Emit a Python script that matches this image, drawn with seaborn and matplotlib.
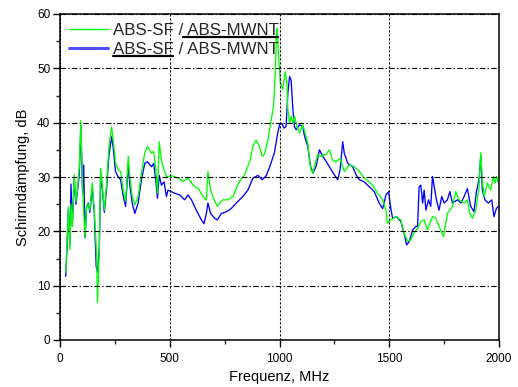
import numpy as np
import pandas as pd
import matplotlib
matplotlib.use("Agg")
import matplotlib.pyplot as plt
import seaborn as sns
from matplotlib.lines import Line2D
from matplotlib.ticker import MultipleLocator

# ---------------- data ----------------
freq_green = [27, 32, 38, 45, 50, 56, 65, 73, 80, 88,
              95, 103, 114, 121, 129, 136, 147, 156, 167, 171,
              179, 185, 192, 202, 212, 223, 235, 242, 253, 265,
              276, 288, 299, 311, 318, 329, 341, 356, 371, 386,
              398, 417, 427, 436, 444, 452, 462, 474, 485, 492,
              510, 538, 561, 583, 606, 629, 652, 667, 674, 686,
              705, 717, 727, 742, 765, 788, 803, 818, 841, 864,
              879, 894, 909, 921, 932, 947, 962, 973, 980, 986,
              989, 995, 1004, 1015, 1026, 1033, 1038, 1046, 1053, 1061,
              1068, 1080, 1091, 1106, 1117, 1129, 1136, 1144, 1152, 1159,
              1174, 1189, 1205, 1212, 1227, 1242, 1258, 1276, 1295, 1318,
              1341, 1364, 1386, 1409, 1424, 1447, 1470, 1485, 1492, 1508,
              1530, 1553, 1568, 1583, 1598, 1614, 1629, 1644, 1659, 1674,
              1697, 1712, 1727, 1747, 1765, 1788, 1803, 1818, 1841, 1856,
              1867, 1879, 1894, 1909, 1917, 1924, 1932, 1947, 1962, 1974,
              1982, 1989, 1997]
att_green = [12.5, 18, 24.5, 16.7, 25, 20.9, 30.4, 25.5, 28, 31.9,
             40.4, 27.6, 18.8, 24.5, 25, 23.9, 28.9, 24, 15.3, 6.9,
             16.6, 31.6, 28.9, 23.9, 28.6, 35.6, 39.2, 37, 32.6, 31.3,
             31, 27.6, 25.5, 33.8, 30.1, 26.4, 24.9, 26.4, 30.7, 34.4,
             35.6, 34.4, 34.7, 31.6, 27, 36.5, 33.1, 31.3, 30.1, 30.1,
             30.2, 29.8, 29.2, 29.8, 28.5, 27.9, 26.4, 25.8, 31.0, 27.6,
             25.5, 24.6, 25.2, 25.8, 25.8, 26.4, 27.9, 29.2, 30.4, 32.8,
             35.6, 36.8, 35.6, 33.8, 34.2, 36.8, 40.5, 43.0, 48.5, 56.0,
             57.3, 52.8, 47.3, 46.1, 49.4, 47.6, 42.4, 39.9, 41.2, 39.9,
             41.2, 39.3, 38.1, 39.6, 38.1, 36.2, 33.2, 31.3, 30.7, 32.0,
             34.1, 33.8, 34.1, 34.1, 35.0, 33.1, 32.8, 33.4, 31.0, 32.2,
             31.9, 31.0, 29.8, 29.1, 28.5, 27.0, 25.8, 23.9, 21.5, 22.1,
             22.7, 22.1, 19.6, 18.2, 18.4, 19.8, 20.5, 21.8, 22.1, 20.3,
             22.7, 22.4, 20.9, 19.0, 23.3, 24.6, 27.3, 25.8, 25.2, 25.8,
             23.3, 22.4, 23.9, 28.2, 34.5, 29.5, 26.4, 28.9, 27.6, 30.1,
             28.9, 30.1, 28.9]

freq_blue = [26, 32, 38, 45, 50, 56, 65, 73, 80, 88,
             95, 103, 108, 114, 121, 129, 136, 147, 156, 165,
             171, 179, 185, 192, 202, 212, 223, 235, 242, 253,
             265, 276, 288, 299, 311, 318, 329, 341, 356, 371,
             386, 398, 417, 427, 436, 444, 452, 462, 474, 485,
             492, 523, 545, 568, 583, 599, 621, 644, 656, 667,
             674, 686, 705, 717, 735, 758, 780, 803, 833, 856,
             879, 902, 921, 940, 955, 977, 992, 1000, 1011, 1020,
             1030, 1038, 1046, 1053, 1061, 1068, 1076, 1091, 1106, 1114,
             1129, 1141, 1152, 1167, 1182, 1197, 1212, 1227, 1250, 1265,
             1276, 1288, 1295, 1311, 1333, 1349, 1364, 1386, 1409, 1432,
             1454, 1470, 1485, 1497, 1505, 1515, 1533, 1553, 1568, 1579,
             1591, 1606, 1621, 1629, 1636, 1644, 1652, 1659, 1667, 1679,
             1689, 1697, 1705, 1715, 1727, 1739, 1750, 1765, 1776, 1788,
             1811, 1826, 1841, 1856, 1871, 1886, 1897, 1909, 1917, 1924,
             1936, 1951, 1967, 1977, 1988, 1997]
att_blue = [11.7, 17, 24, 17.5, 28.7, 21, 29.5, 25, 27.5, 30.5,
            39.5, 27, 32.2, 18.8, 24.5, 25.2, 23.5, 28, 23.5, 13.5,
            12.5, 17, 30, 28, 23.5, 27.8, 34, 37.4, 35.5, 31,
            30, 29.5, 26.5, 24.6, 32.5, 28.5, 25.2, 23.3, 25.2, 29.5,
            32.5, 32.8, 31.9, 32.5, 29.5, 26.1, 30.3, 28.5, 29.1, 26.4,
            27.6, 27.0, 26.7, 25.8, 26.7, 25.8, 23.9, 22.1, 21.4, 23.3,
            25.2, 23.3, 22.4, 22.1, 23.3, 23.6, 24.2, 25.2, 26.4, 27.6,
            29.8, 30.3, 29.5, 30.3, 31.8, 34.5, 38.1, 39.6, 39.9, 39.0,
            39.3, 45.5, 48.5, 47.8, 42.4, 39.3, 38.7, 39.6, 39.3, 37.5,
            35.6, 32.0, 30.7, 32.0, 35.0, 33.8, 32.9, 31.9, 30.4, 29.5,
            31.3, 36.5, 34.4, 32.5, 31.9, 30.4, 29.5, 29.1, 28.2, 27.3,
            25.2, 24.2, 26.7, 27.3, 24.8, 22.4, 22.7, 21.8, 19.6, 17.5,
            18.1, 20.2, 20.9, 20.9, 28.2, 28.5, 25.2, 27.6, 23.9, 25.8,
            24.6, 30.1, 28.2, 25.8, 23.9, 26.4, 25.2, 25.8, 27.3, 25.2,
            25.8, 25.2, 26.4, 27.9, 24.6, 23.6, 27.3, 29.5, 34.0, 27.6,
            25.8, 25.2, 25.8, 22.7, 24.2, 24.6]

label_text = "ABS-SF / ABS-MWNT"
x_ticks = [0, 500, 1000, 1500, 2000]
y_ticks = [0, 10, 20, 30, 40, 50, 60]
x_label = "Frequenz, MHz"
y_label = "Schirmdämpfung, dB"

# ---------------- style ----------------
sns.set_style("ticks")
plt.rcParams["font.family"] = ["Liberation Sans", "DejaVu Sans"]
plt.rcParams["axes.edgecolor"] = "black"
plt.rcParams["axes.linewidth"] = 1.1

fig = plt.figure(figsize=(5.18, 3.87), dpi=100)
ax = fig.add_axes([60 / 518, 1 - 340 / 387, 439 / 518, 326 / 387])

df_b = pd.DataFrame({"f": freq_blue, "a": att_blue})
df_g = pd.DataFrame({"f": freq_green, "a": att_green})
sns.lineplot(data=df_b, x="f", y="a", color="#0000ff", lw=0.95, ax=ax,
             estimator=None, sort=False, legend=False)
sns.lineplot(data=df_g, x="f", y="a", color="#00ff00", lw=0.95, ax=ax,
             estimator=None, sort=False, legend=False)

ax.set_xlim(0, 2000)
ax.set_ylim(0, 60)
ax.set_xticks(x_ticks)
ax.set_yticks(y_ticks)
ax.xaxis.set_minor_locator(MultipleLocator(250))
ax.yaxis.set_minor_locator(MultipleLocator(5))
ax.tick_params(which="major", direction="out", length=5, width=1.0,
               labelsize=8.5, colors="black", pad=2)
ax.tick_params(which="minor", direction="out", length=3, width=1.0)
ax.tick_params(axis="x", which="major", pad=4)
for s in ["top", "right", "left", "bottom"]:
    ax.spines[s].set_visible(True)
    ax.spines[s].set_color("black")

ax.yaxis.grid(True, which="major", color="black", lw=0.8,
              linestyle=(0, (5, 2, 1.2, 2)))
ax.xaxis.grid(True, which="major", color="black", lw=0.8,
              linestyle=(0, (2, 1.6)))
ax.set_axisbelow(False)

ax.set_xlabel(x_label, fontsize=10.5, color="black", labelpad=4)
ax.set_ylabel(y_label, fontsize=10.5, color="black", labelpad=5)

handles = [Line2D([], [], color="#00ff00", lw=1.0),
           Line2D([], [], color="#5050ff", lw=2.2)]
leg = ax.legend(handles, [label_text, label_text], loc="upper left",
                bbox_to_anchor=(0.0, 1.0), frameon=False, fontsize=12.2,
                handlelength=2.3, handletextpad=0.25, labelspacing=0.24,
                borderpad=0.35, borderaxespad=0.2)

# underline parts of legend texts
fig.canvas.draw()
renderer = fig.canvas.get_renderer()
inv = fig.transFigure.inverted()
texts = leg.get_texts()
parts = [("ABS-SF /", " ABS-MWNT"), ("", "ABS-SF")]
for t, (pre, under) in zip(texts, parts):
    prop = t.get_fontproperties()
    bb = t.get_window_extent(renderer)
    _, _, d = renderer.get_text_width_height_descent("lp", prop, ismath=False)
    wp = renderer.get_text_width_height_descent(pre, prop, ismath=False)[0] if pre else 0
    wu = renderer.get_text_width_height_descent(under, prop, ismath=False)[0]
    base = bb.y0 + d
    y = base - 1.8
    p0 = inv.transform((bb.x0 + wp, y))
    p1 = inv.transform((bb.x0 + wp + wu, y))
    fig.add_artist(Line2D([p0[0], p1[0]], [p0[1], p1[1]], color="black",
                          lw=1.6, transform=fig.transFigure))

fig.savefig("out.png", dpi=100)
